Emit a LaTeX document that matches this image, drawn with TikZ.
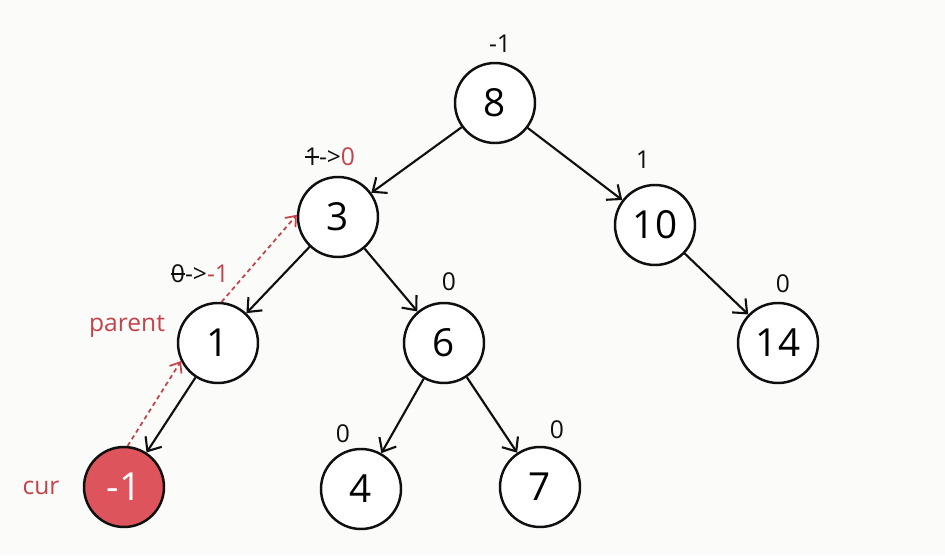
\documentclass[tikz,border=0pt]{standalone}
\usepackage{fontspec}
\setmainfont{Open Sans}
\usetikzlibrary{positioning, arrows.meta}
\definecolor{pagebg}{RGB}{251, 251, 249}
\definecolor{curred}{RGB}{221, 84, 92}
\definecolor{notered}{RGB}{196, 66, 74}
\definecolor{inkdark}{RGB}{15, 15, 15}

% struck-through old value
\newcommand{\oldval}[1]{\setbox0\hbox{#1}\rlap{#1}\rule[0.32em]{\wd0}{0.07em}}

\tikzset{
    treenode/.style={draw=inkdark, circle, line width=1.4pt, minimum size=1.6cm, inner sep=0pt, fill=white, font=\fontsize{22}{25}\selectfont},
    curnode/.style={treenode, fill=curred, text=white},
    balance/.style={font=\fontsize{14}{16}\selectfont, text=inkdark, inner sep=1pt},
    tag/.style={font=\fontsize{14}{16}\selectfont, text=notered, inner sep=1pt},
    edge/.style={draw=inkdark, line width=1.2pt, -{Straight Barb[length=6.5pt, width=11pt, line width=1.2pt]}},
    backlink/.style={draw=notered, line width=1pt, dash pattern=on 2.5pt off 2pt, -{Straight Barb[length=5pt, width=8pt, line width=1pt]}}
}

\begin{document}
\begin{tikzpicture}
    \fill[pagebg] (0,0) rectangle (18.9,11.1);
    \useasboundingbox (0,0) rectangle (18.9,11.1);

    % tree
    \node[treenode] (n8) at (9.90, 9.04) {8};
    \node[treenode] (n3) at (6.76, 6.76) {3};
    \node[treenode] (n10) at (13.10, 6.60) {10};
    \node[treenode] (n1) at (4.36, 4.24) {1};
    \node[treenode] (n6) at (8.88, 4.24) {6};
    \node[treenode] (n14) at (15.56, 4.24) {14};
    \node[curnode] (cur) at (2.48, 1.36) {-1};
    \node[treenode] (n4) at (7.22, 1.32) {4};
    \node[treenode] (n7) at (10.80, 1.36) {7};

    % balance factors
    \node[balance] (b8) at (10.00, 10.22) {-1};
    \node[balance] (b3) at (6.60, 7.96) {\oldval{1}->\textcolor{notered}{0}};
    \node[balance] (b10) at (12.86, 7.90) {1};
    \node[balance] (b1) at (4.00, 5.62) {\oldval{0}->\textcolor{notered}{-1}};
    \node[balance] (b6) at (8.98, 5.46) {0};
    \node[balance] (b14) at (15.66, 5.42) {0};
    \node[balance] (b4) at (6.86, 2.42) {0};
    \node[balance] (b7) at (11.14, 2.50) {0};

    \node[tag] (parentlbl) at (2.54, 4.58) {parent};
    \node[tag] (curlbl) at (0.82, 1.34) {cur};

    % edges
    \draw[edge] (n8) -- (n3);
    \draw[edge] (n8) -- (n10);
    \draw[edge] (n3) -- (n1);
    \draw[edge] (n3) -- (n6);
    \draw[edge] (n10) -- (n14);
    \draw[edge] (n1) -- (cur);
    \draw[edge] (n6) -- (n4);
    \draw[edge] (n6) -- (n7);

    % update path
    \draw[backlink] (cur.85) -- (n1.206);
    \draw[backlink] (n1.85) -- (n3.177);
\end{tikzpicture}
\end{document}
